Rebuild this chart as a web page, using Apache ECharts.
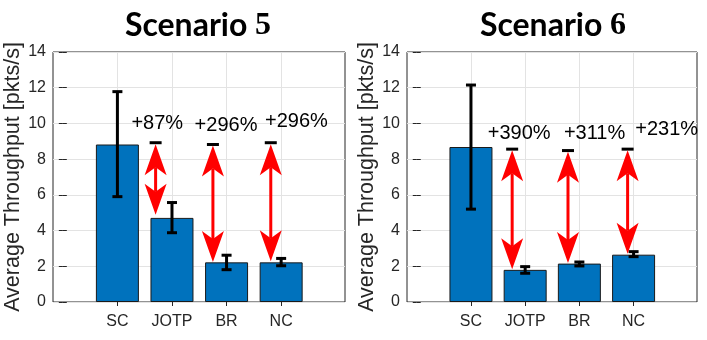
<!DOCTYPE html>
<html>
<head>
<meta charset="utf-8">
<script src="https://cdn.jsdelivr.net/npm/echarts@6/dist/echarts.min.js"></script>
<style>
  html, body { margin: 0; padding: 0; background: #fff; }
  #chart { width: 707px; height: 340px; }
</style>
</head>
<body>
<div id="chart"></div>
<script>
// categories and x positions (MATLAB bar positions 1..4)
var categories = ["SC", "JOTP", "BR", "NC"];
var catX = [1, 2, 3, 4];

// Scenario 5
var s5Mean = [8.82, 4.71, 2.22, 2.22];
var s5Upper = [11.78, 5.57, 2.62, 2.44];
var s5Lower = [5.9, 3.88, 1.81, 2.03];
var s5ArrowX = [1.70, 2.75, 3.81];
var s5ArrowTop = [8.84, 8.76, 8.84];
var s5ArrowBottom = [4.88, 2.24, 2.28];
var s5DashY = [8.92, 8.82, 8.92];
var s5Labels = ["+87%", "+296%", "+296%"];
var s5LabelX = [1.73, 2.99, 4.28];
var s5LabelY = [10.0, 9.9, 10.1];

// Scenario 6
var s6Mean = [8.68, 1.8, 2.15, 2.65];
var s6Upper = [12.15, 1.98, 2.24, 2.82];
var s6Lower = [5.2, 1.61, 2.02, 2.54];
var s6ArrowX = [1.76, 2.79, 3.89];
var s6ArrowTop = [8.5, 8.42, 8.5];
var s6ArrowBottom = [1.84, 2.18, 2.7];
var s6DashY = [8.56, 8.48, 8.56];
var s6Labels = ["+390%", "+311%", "+231%"];
var s6LabelX = [1.89, 3.28, 4.61];
var s6LabelY = [9.46, 9.46, 9.65];

var titles = ["5", "6"];

var axisColor = "#262626";
var gridColor = "#e3e3e3";
var barColor = "#0072bd";

var chart = echarts.init(document.getElementById("chart"));

function panelAxes(gi) {
  var xs = [
    {
      type: "value", gridIndex: gi, min: -0.18, max: 5.17,
      axisLine: { show: false },
      axisTick: { show: true, inside: true, length: 4, customValues: catX, lineStyle: { color: axisColor } },
      axisLabel: {
        customValues: catX, margin: 12, fontSize: 16, color: axisColor,
        fontFamily: "Liberation Sans",
        formatter: function (v) { return categories[Math.round(v) - 1] || ""; }
      },
      splitLine: { show: true, lineStyle: { color: gridColor, width: 1 } }
    },
    {
      type: "value", gridIndex: gi, position: "top", min: -0.18, max: 5.17,
      axisLine: { show: false },
      axisTick: { show: true, inside: true, length: 4, customValues: catX, lineStyle: { color: axisColor } },
      axisLabel: { show: false },
      splitLine: { show: false }
    }
  ];
  var ys = [
    {
      type: "value", gridIndex: gi, min: 0, max: 14, interval: 2,
      name: "Average Throughput [pkts/s]", nameLocation: "middle", nameGap: 28,
      nameTextStyle: { fontSize: 21.5, color: axisColor, fontFamily: "Liberation Sans" },
      axisLine: { show: false },
      axisTick: { show: true, inside: true, length: 4, lineStyle: { color: axisColor } },
      axisLabel: { fontSize: 16, color: axisColor, margin: 7, fontFamily: "Liberation Sans" },
      splitLine: { show: true, lineStyle: { color: gridColor, width: 1 } }
    },
    {
      type: "value", gridIndex: gi, position: "right", min: 0, max: 14, interval: 2,
      axisLine: { show: false },
      axisTick: { show: true, inside: true, length: 4, lineStyle: { color: axisColor } },
      axisLabel: { show: false },
      splitLine: { show: false }
    }
  ];
  return { xs: xs, ys: ys };
}

function panelSeries(gi, mean, upper, lower, arrowX, arrowTop, arrowBottom, dashY, labels, labelX, labelY) {
  var xi = gi * 2, yi = gi * 2;
  return [
    {
      type: "bar", xAxisIndex: xi, yAxisIndex: yi, barWidth: 43,
      itemStyle: { color: barColor, borderColor: "#1a1a1a", borderWidth: 1 },
      data: catX.map(function (x, i) { return [x, mean[i]]; }),
      z: 2
    },
    {
      // error bars
      type: "custom", xAxisIndex: xi, yAxisIndex: yi, z: 5,
      data: catX.map(function (x, i) { return [x, lower[i], upper[i]]; }),
      encode: { x: 0, y: [1, 2] },
      renderItem: function (params, api) {
        var lo = api.coord([api.value(0), api.value(1)]);
        var hi = api.coord([api.value(0), api.value(2)]);
        var s = { stroke: "#000", lineWidth: 3 };
        var cw = 5;
        return {
          type: "group",
          children: [
            { type: "line", shape: { x1: lo[0], y1: lo[1], x2: hi[0], y2: hi[1] }, style: s },
            { type: "line", shape: { x1: lo[0] - cw, y1: lo[1], x2: lo[0] + cw, y2: lo[1] }, style: s },
            { type: "line", shape: { x1: hi[0] - cw, y1: hi[1], x2: hi[0] + cw, y2: hi[1] }, style: s }
          ]
        };
      }
    },
    {
      // reference dashes (black) above arrows
      type: "custom", xAxisIndex: xi, yAxisIndex: yi, z: 6,
      data: arrowX.map(function (x, i) { return [x, dashY[i]]; }),
      renderItem: function (params, api) {
        var p = api.coord([api.value(0), api.value(1)]);
        return {
          type: "line",
          shape: { x1: p[0] - 6, y1: p[1], x2: p[0] + 6, y2: p[1] },
          style: { stroke: "#000", lineWidth: 3 }
        };
      }
    },
    {
      // red double arrows
      type: "custom", xAxisIndex: xi, yAxisIndex: yi, z: 7,
      data: arrowX.map(function (x, i) { return [x, arrowBottom[i], arrowTop[i]]; }),
      renderItem: function (params, api) {
        var b = api.coord([api.value(0), api.value(1)]);
        var t = api.coord([api.value(0), api.value(2)]);
        var x = t[0], hl = 31, hw = 11, notch = 23;
        var red = { fill: "#ff0000" };
        return {
          type: "group",
          children: [
            { type: "line", shape: { x1: x, y1: t[1] + notch, x2: x, y2: b[1] - notch },
              style: { stroke: "#ff0000", lineWidth: 3 } },
            { type: "polygon", shape: { points: [[x, t[1]], [x + hw, t[1] + hl], [x, t[1] + notch], [x - hw, t[1] + hl]] }, style: red },
            { type: "polygon", shape: { points: [[x, b[1]], [x + hw, b[1] - hl], [x, b[1] - notch], [x - hw, b[1] - hl]] }, style: red }
          ]
        };
      }
    },
    {
      // percentage labels
      type: "custom", xAxisIndex: xi, yAxisIndex: yi, z: 8,
      data: labelX.map(function (x, i) { return [x, labelY[i]]; }),
      renderItem: function (params, api) {
        var p = api.coord([api.value(0), api.value(1)]);
        return {
          type: "text",
          style: {
            x: p[0], y: p[1], text: labels[params.dataIndex],
            align: "center", verticalAlign: "middle",
            fontSize: 20, fontFamily: "Liberation Sans", fill: "#000"
          }
        };
      }
    }
  ];
}

var a0 = panelAxes(0), a1 = panelAxes(1);

var option = {
  animation: false,
  backgroundColor: "#fff",
  title: titles.map(function (t, i) {
    return {
      text: "{a|Scenario }{b|" + t + "}",
      left: i === 0 ? 193 : 548, top: 5, textAlign: "center",
      textStyle: {
        rich: {
          a: { fontSize: 32, fontWeight: "bold", fontFamily: "Lato", color: "#000" },
          b: { fontSize: 32, fontWeight: "bold", fontFamily: "Liberation Serif", color: "#000" }
        }
      }
    };
  }),
  grid: [
    { left: 53, top: 52, width: 292, height: 250, show: true, borderColor: axisColor, borderWidth: 1, backgroundColor: "#fff" },
    { left: 407, top: 52, width: 290, height: 250, show: true, borderColor: axisColor, borderWidth: 1, backgroundColor: "#fff" }
  ],
  xAxis: a0.xs.concat(a1.xs),
  yAxis: a0.ys.concat(a1.ys),
  series: panelSeries(0, s5Mean, s5Upper, s5Lower, s5ArrowX, s5ArrowTop, s5ArrowBottom, s5DashY, s5Labels, s5LabelX, s5LabelY)
    .concat(panelSeries(1, s6Mean, s6Upper, s6Lower, s6ArrowX, s6ArrowTop, s6ArrowBottom, s6DashY, s6Labels, s6LabelX, s6LabelY))
};

chart.setOption(option);
</script>
</body>
</html>
